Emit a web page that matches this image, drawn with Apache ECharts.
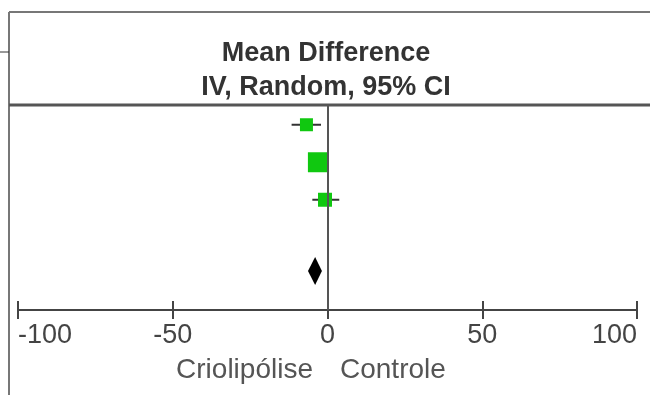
<!DOCTYPE html>
<html lang="en">
<head>
  <meta charset="utf-8">
  <title>Forest plot</title>
  <style>
    * { margin: 0; padding: 0; }
    #chart-container { position: relative; width: 650px; height: 395px; overflow: hidden; background: #fff; }
  </style>
</head>
<body>
  <div id="chart-container"></div>
  <script src="https://cdn.jsdelivr.net/npm/echarts@6/dist/echarts.min.js"></script>
  <script>
    // study rows (top to bottom) and their mean differences with 95% CI
    var studyRows = [1, 2, 3];
    var meanDiff = [-6.8, -3.1, -0.8];
    var ciLow = [-11.6, -5.8, -4.9];
    var ciHigh = [-2.1, -0.4, 3.8];
    var boxSize = [13, 20, 14];

    // pooled estimate (diamond)
    var totalRow = 4.9;
    var totalMean = -4.0;
    var totalLow = -6.3;
    var totalHigh = -1.8;

    var headerLines = ['Mean Difference', 'IV, Random, 95% CI'];
    var favourLabels = ['Criolipólise', 'Controle'];

    var dom = document.getElementById('chart-container');
    var myChart = echarts.init(dom, null, { renderer: 'canvas' });

    var font = '"Liberation Sans", Arial, sans-serif';

    var ciData = studyRows.map(function (r, i) { return [ciLow[i], ciHigh[i], r]; });
    var boxData = studyRows.map(function (r, i) { return [meanDiff[i], r, boxSize[i]]; });

    var option = {
      backgroundColor: '#fff',
      animation: false,
      grid: { left: 18, right: 13, top: 106, bottom: 85 },
      xAxis: [{
        type: 'value',
        position: 'bottom',
        min: -100, max: 100, interval: 50,
        splitLine: { show: false },
        axisLine: { show: true, lineStyle: { color: '#444', width: 2 } },
        axisTick: { show: true, length: 9, lineStyle: { color: '#444', width: 2 } },
        axisLabel: {
          color: '#444', fontSize: 27, fontFamily: font, margin: 12,
          alignMinLabel: 'left', alignMaxLabel: 'right'
        }
      }, {
        type: 'value',
        position: 'bottom',
        min: -100, max: 100, interval: 50,
        splitLine: { show: false },
        axisLine: { show: false },
        axisTick: { show: true, inside: true, length: 9, lineStyle: { color: '#444', width: 2 } },
        axisLabel: { show: false }
      }],
      yAxis: {
        type: 'value',
        inverse: true,
        min: 0.5, max: 5.94,
        show: false
      },
      series: [{
        type: 'custom',
        data: ciData,
        renderItem: function (params, api) {
          var a = api.coord([api.value(0), api.value(2)]);
          var b = api.coord([api.value(1), api.value(2)]);
          return {
            type: 'line',
            shape: { x1: a[0], y1: a[1], x2: b[0], y2: b[1] },
            style: { stroke: '#333', lineWidth: 2 }
          };
        }
      }, {
        type: 'scatter',
        data: boxData,
        symbol: 'rect',
        symbolSize: function (v) { return v[2]; },
        itemStyle: { color: '#10c810', opacity: 1 },
        markLine: {
          silent: true,
          symbol: 'none',
          label: { show: false },
          lineStyle: { color: '#555', width: 2, type: 'solid' },
          data: [{ xAxis: 0 }]
        }
      }, {
        type: 'custom',
        data: [[totalLow, totalMean, totalHigh, totalRow]],
        renderItem: function (params, api) {
          var l = api.coord([api.value(0), api.value(3)]);
          var m = api.coord([api.value(1), api.value(3)]);
          var r = api.coord([api.value(2), api.value(3)]);
          var h = 14;
          return {
            type: 'polygon',
            shape: { points: [[l[0], l[1]], [m[0], m[1] - h], [r[0], r[1]], [m[0], m[1] + h]] },
            style: { fill: '#000' }
          };
        }
      }],
      graphic: [
        { type: 'line', shape: { x1: 9, y1: 12, x2: 650, y2: 12 }, style: { stroke: '#777', lineWidth: 2 } },
        { type: 'line', shape: { x1: 9, y1: 12, x2: 9, y2: 395 }, style: { stroke: '#777', lineWidth: 2 } },
        { type: 'line', shape: { x1: 0, y1: 52, x2: 9, y2: 52 }, style: { stroke: '#333', lineWidth: 1 } },
        { type: 'line', shape: { x1: 9, y1: 105, x2: 650, y2: 105 }, style: { stroke: '#555', lineWidth: 3 } },
        {
          type: 'text', x: 326, y: 67,
          style: { text: headerLines[0], fill: '#333', font: 'bold 27px ' + font, textAlign: 'center', textVerticalAlign: 'bottom' }
        },
        {
          type: 'text', x: 326, y: 101,
          style: { text: headerLines[1], fill: '#333', font: 'bold 27px ' + font, textAlign: 'center', textVerticalAlign: 'bottom' }
        },
        {
          type: 'text', x: 313, y: 384,
          style: { text: favourLabels[0], fill: '#555', font: '28px ' + font, textAlign: 'right', textVerticalAlign: 'bottom' }
        },
        {
          type: 'text', x: 340, y: 384,
          style: { text: favourLabels[1], fill: '#555', font: '28px ' + font, textAlign: 'left', textVerticalAlign: 'bottom' }
        }
      ]
    };

    myChart.setOption(option);
    window.addEventListener('resize', myChart.resize);
  </script>
</body>
</html>
